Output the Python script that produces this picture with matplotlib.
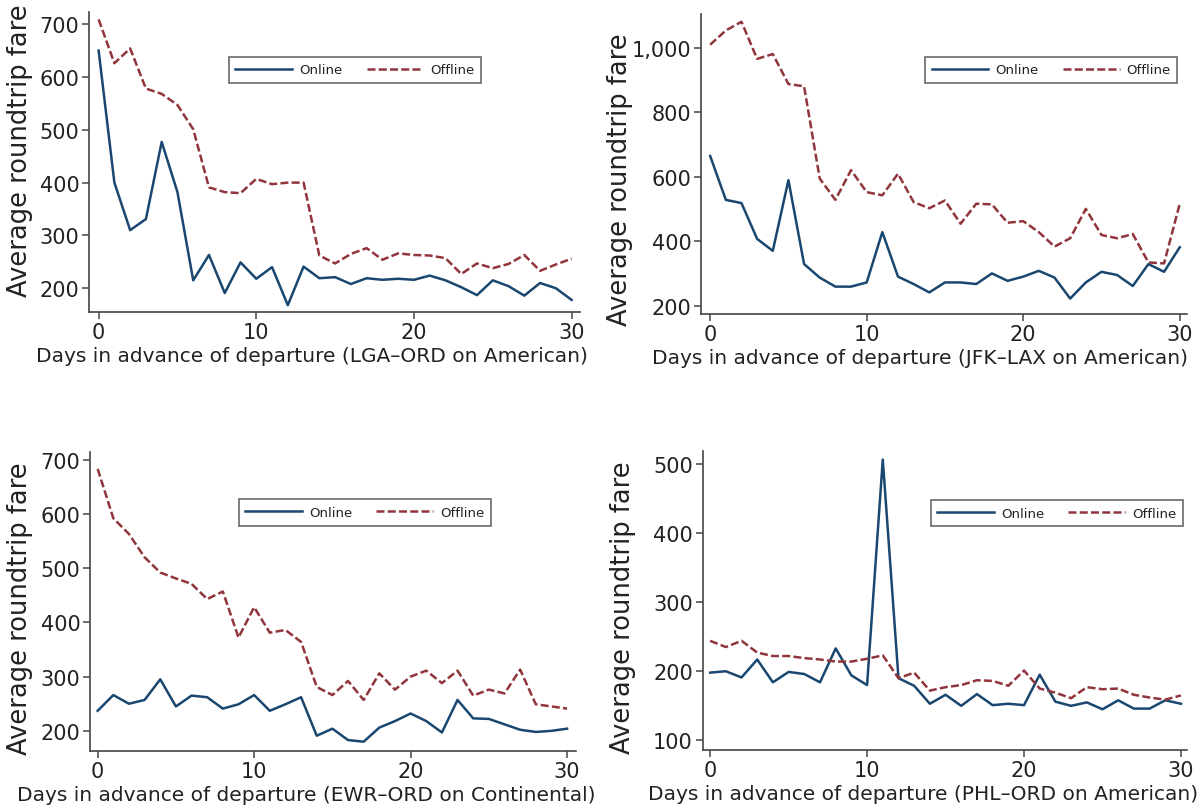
import numpy as np
import matplotlib
matplotlib.use("Agg")
import matplotlib.pyplot as plt
from matplotlib.ticker import FuncFormatter

plt.rcParams['font.family'] = ['DejaVu Sans']

days = list(range(31))

# LGA-ORD on American
lga_online = [650, 400, 310, 331, 477, 382, 215, 263, 191, 249, 218, 240, 168, 241, 219, 221,
              208, 219, 216, 218, 216, 224, 215, 202, 187, 215, 204, 186, 210, 200, 178]
lga_offline = [709, 626, 654, 578, 568, 547, 501, 391, 382, 380, 407, 397, 400, 400, 262, 247,
               265, 276, 254, 266, 263, 262, 257, 227, 247, 238, 246, 263, 233, 245, 256]

# JFK-LAX on American
jfk_online = [665, 529, 519, 408, 371, 590, 330, 288, 260, 260, 273, 429, 291, 268, 242, 273,
              273, 268, 301, 278, 291, 309, 288, 223, 273, 306, 296, 262, 330, 306, 382]
jfk_offline = [1010, 1054, 1081, 966, 981, 888, 881, 595, 529, 621, 553, 543, 610, 522, 503, 527,
               455, 517, 515, 458, 463, 429, 384, 410, 501, 420, 410, 423, 335, 332, 517]

# EWR-ORD on Continental
ewr_online = [237, 266, 250, 257, 295, 245, 265, 262, 241, 249, 266, 237, 249, 262, 191, 204,
              183, 180, 206, 218, 232, 218, 197, 257, 223, 222, 212, 202, 198, 200, 204]
ewr_offline = [683, 592, 563, 520, 492, 481, 471, 443, 457, 372, 428, 381, 386, 364, 281, 266,
               292, 257, 306, 276, 300, 311, 288, 311, 265, 276, 269, 313, 249, 245, 241]

# PHL-ORD on American
phl_online = [198, 200, 191, 217, 184, 199, 196, 184, 233, 194, 180, 506, 190, 179, 153, 166,
              150, 167, 151, 153, 151, 195, 156, 150, 155, 145, 158, 146, 146, 158, 153]
phl_offline = [244, 235, 244, 227, 222, 222, 219, 217, 214, 214, 218, 223, 190, 198, 172, 177,
               180, 187, 186, 179, 201, 175, 169, 161, 177, 174, 175, 166, 162, 159, 165]

panels = [
    # online, offline, route, yticks, ylim, xlim, axes rect, legend centre, xlabel x, ylabel (x, y)
    (lga_online, lga_offline, 'LGA\u2013ORD on American', [200, 300, 400, 500, 600, 700],
     (155, 723), (-0.6, 30.53), [0.0743, 0.6145, 0.409, 0.3695], (0.2958, 0.913),
     0.454, (-0.1146, 0.54)),
    (jfk_online, jfk_offline, 'JFK\u2013LAX on American', [200, 400, 600, 800, 1000],
     (175, 1105), (-0.56, 30.49), [0.5845, 0.612, 0.405, 0.3695], (0.876, 0.913),
     0.45, (-0.1407, 0.45)),
    (ewr_online, ewr_offline, 'EWR\u2013ORD on Continental', [200, 300, 400, 500, 600, 700],
     (163, 714), (-0.49, 30.57), [0.075, 0.074, 0.405, 0.368], (0.304, 0.3675),
     0.444, (-0.117, 0.478)),
    (phl_online, phl_offline, 'PHL\u2013ORD on American', [100, 200, 300, 400, 500],
     (86, 518), (-0.48, 30.41), [0.5855, 0.075, 0.404, 0.368], (0.8807, 0.3665),
     0.454, (-0.137, 0.48)),
]

navy = '#1a476f'
maroon = '#90353b'
txt = '#222222'
axcol = '#444444'

fig = plt.figure(figsize=(12, 8.12), dpi=100)

for online, offline, route, yticks, ylim, xlim, rect, legc, xlx, yl in panels:
    ax = fig.add_axes(rect)
    ax.plot(days, online, color=navy, lw=1.8, label='Online')
    ax.plot(days, offline, color=maroon, lw=1.8, ls=(0, (3.2, 1.3)), label='Offline')
    ax.set_xlim(*xlim)
    ax.set_ylim(*ylim)
    ax.set_xticks([0, 10, 20, 30])
    ax.set_yticks(yticks)
    ax.yaxis.set_major_formatter(FuncFormatter(lambda v, p: f'{int(v):,}'))
    for s in ['top', 'right']:
        ax.spines[s].set_visible(False)
    for s in ['left', 'bottom']:
        ax.spines[s].set_color(axcol)
        ax.spines[s].set_linewidth(1.2)
    ax.tick_params(colors=axcol, labelcolor=txt, labelsize=15, length=5, width=1.1, pad=2)
    ax.set_xlabel(f'Days in advance of departure ({route})', fontsize=14.5, color=txt, labelpad=3)
    ax.xaxis.label.set_x(xlx)
    ax.set_ylabel('Average roundtrip fare', fontsize=18.5, color=txt)
    ax.yaxis.set_label_coords(*yl)
    leg = ax.legend(loc='center', bbox_to_anchor=legc, bbox_transform=fig.transFigure,
                    ncol=2, fontsize=9.5, frameon=True, fancybox=False, handlelength=4.3,
                    handletextpad=0.53, columnspacing=1.84, borderpad=0.5)
    leg.get_frame().set_edgecolor(axcol)
    leg.get_frame().set_linewidth(1.2)
    for t in leg.get_texts():
        t.set_color(txt)

fig.savefig('out.png', dpi=100)
